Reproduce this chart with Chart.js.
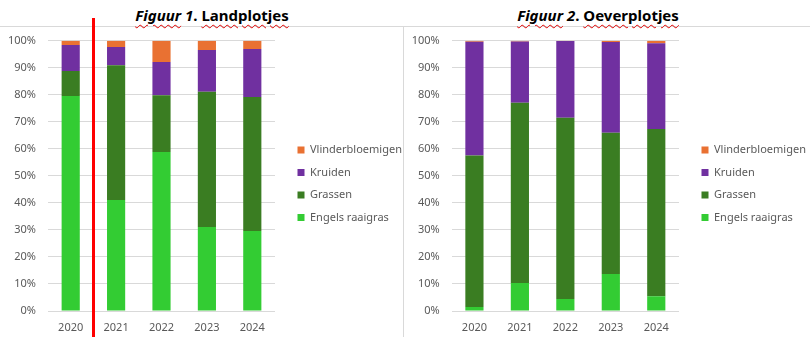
<!DOCTYPE html>
<html>
<head>
<meta charset="utf-8">
<script src="https://cdn.jsdelivr.net/npm/chart.js@4.4.1/dist/chart.umd.min.js"></script>
<style>
  body { margin: 0; background: #fff; width: 810px; height: 337px; overflow: hidden; position: relative; font-family: "Noto Sans", sans-serif; }
  .title { position: absolute; top: 5px; font-size: 15px; font-weight: bold; color: #000; white-space: nowrap; transform: translateX(-50%); }
  .title .sp { text-decoration: underline wavy #e00000; text-decoration-thickness: 1px; text-underline-offset: 3px; }
  .hline { position: absolute; left: 0; top: 26px; width: 810px; height: 1px; background: #d9d9d9; }
  .vline { position: absolute; left: 403px; top: 26px; width: 1px; height: 311px; background: #d9d9d9; }
  .box { position: absolute; top: 27px; height: 310px; }
  .mark { position: absolute; left: 92px; top: 18px; width: 3px; height: 319px; background: #ff0000; }
</style>
</head>
<body>
<div class="hline"></div>
<div class="vline"></div>
<div class="title" style="left:212px"><i class="sp">Figuur</i><i> 1</i>. <span class="sp">Landplotjes</span></div>
<div class="title" style="left:598px"><i class="sp">Figuur</i><i> 2</i>. <span class="sp">Oeverplotjes</span></div>
<div class="box" style="left:0;width:403px"><canvas id="land"></canvas></div>
<div class="box" style="left:404px;width:406px"><canvas id="oever"></canvas></div>
<div class="mark"></div>

<script>
var years = ['2020', '2021', '2022', '2023', '2024'];
var soorten = ['Engels raaigras', 'Grassen', 'Kruiden', 'Vlinderbloemigen'];
var kleuren = ['#33cc33', '#3a7d22', '#7030a0', '#e97132'];

// Landplotjes, aandeel in %
var landEngels = [79.5, 41.1, 58.8, 31.1, 29.6];
var landGrassen = [9.3, 49.8, 21.0, 50.0, 49.6];
var landKruiden = [9.6, 6.8, 12.3, 15.5, 17.7];
var landVlinder = [1.6, 2.3, 7.9, 3.4, 3.1];

// Oeverplotjes, aandeel in %
var oeverEngels = [1.5, 10.4, 4.4, 13.7, 5.5];
var oeverGrassen = [56.0, 66.6, 67.1, 52.2, 61.8];
var oeverKruiden = [42.1, 22.7, 28.4, 33.6, 31.8];
var oeverVlinder = [0.4, 0.3, 0.1, 0.5, 0.9];

var yTicks = [0, 10, 20, 30, 40, 50, 60, 70, 80, 90, 100];

Chart.defaults.font.family = '"Noto Sans", sans-serif';
Chart.defaults.font.size = 11;
Chart.defaults.color = '#595959';

// legenda iets van de grafiek af en omhoog schuiven
var legendShift = {
    id: 'legendShift',
    afterLayout: function(chart){
        chart.legend.left += 11;
        chart.legend.right += 11;
        chart.legend.top -= 5;
        chart.legend.bottom -= 5;
    }
};

function makeChart(id, series, axisWidth, padRight) {
    var datasets = series.map(function(values, i){
        return {
            label: soorten[i],
            data: values,
            backgroundColor: kleuren[i],
            borderWidth: 0,
            barPercentage: 0.4,
            categoryPercentage: 1.0
        }
    });

    return new Chart(document.getElementById(id), {
        type: 'bar',
        data: { labels: years, datasets: datasets },
        plugins: [legendShift],
        options: {
            responsive: true,
            maintainAspectRatio: false,
            animation: false,
            layout: { padding: { top: 13.7, right: padRight } },
            plugins: {
                tooltip: { enabled: false },
                legend: {
                    position: 'right',
                    reverse: true,
                    maxWidth: 120,
                    labels: { boxWidth: 7, boxHeight: 7, padding: 11.5, color: '#595959', font: { size: 11 } }
                }
            },
            scales: {
                x: {
                    stacked: true,
                    grid: { display: false },
                    border: { display: false },
                    ticks: { padding: 2 },
                    afterFit: function(scale){ scale.height = 26 }
                },
                y: {
                    stacked: true,
                    min: 0,
                    max: 100,
                    afterBuildTicks: function(scale){
                        scale.ticks = yTicks.map(function(v){ return { value: v } })
                    },
                    ticks: { callback: function(v){ return v + '%' }, padding: 12 },
                    grid: { color: '#d9d9d9', drawTicks: false },
                    border: { display: false },
                    afterFit: function(scale){
                        scale.width = axisWidth;
                        // bovenkant alleen via layout.padding laten bepalen
                        scale.paddingTop = 0;
                        scale.paddingBottom = 0;
                    }
                }
            }
        }
    });
}

makeChart('land', [landEngels, landGrassen, landKruiden, landVlinder], 48, 8);
makeChart('oever', [oeverEngels, oeverGrassen, oeverKruiden, oeverVlinder], 47.7, 11);
</script>
</body>
</html>
